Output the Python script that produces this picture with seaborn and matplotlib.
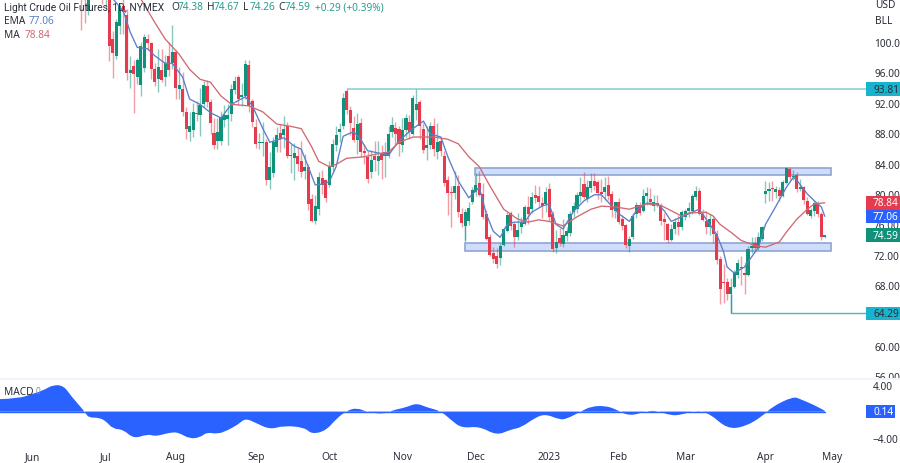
import numpy as np
import pandas as pd
import matplotlib
matplotlib.use('Agg')
import matplotlib.pyplot as plt
from matplotlib.patches import Rectangle, PathPatch
from matplotlib.path import Path
import seaborn as sns

# candles, first visible bar is number 14 counted from 1 June 2022
first_bar = 14
opens = [109.5,107,104.1,107.5,109.6,112,110,105.8,108.4,100.4,
         98.2,102.1,104.7,103.5,95.9,96.9,95.4,94.3,96.6,100.4,
         99.9,96.5,95.1,96.3,95.4,98.2,97.2,98.7,93.8,93.8,
         90.8,88.2,88.4,90.7,90.4,91.8,94.2,92.1,88,87,
         87,89.7,89.9,90.5,93.7,95.4,92.7,92.9,97,92.2,
         88.8,86.7,86.7,86.9,81.9,82.8,86.2,88,87.8,89,
         85,84.8,85,84.3,83,83.5,79.3,76.5,78,82.1,
         81.8,81.2,83.5,86.4,88.1,88.9,93.6,91.1,88.7,87.1,
         89.4,85.6,84.9,82.9,85,84.4,85.3,85,85,88.2,
         88.7,88.5,86.4,88.4,89.5,87.9,91,92.1,88.5,86,
         86.4,88.9,85.5,87,85,81.8,80.3,80.1,81,77.4,
         75.8,76.4,79,80.2,81.4,80,77.4,74.4,72.2,71.9,
         71.6,73.3,75.1,77.5,76.1,74.3,75.7,76,78.3,78,
         79.9,79.7,78.8,78.7,80.6,77.4,72.9,74.2,73.4,74.5,
         74.9,77.6,78,79.8,81.3,79.3,80.8,81.7,81.6,80.2,
         80.2,81.2,80,77.7,79,76.7,75.9,73.2,74.4,77.4,
         78.5,77.7,79.8,79.4,78.4,78.7,78.4,76.7,76,73.9,
         75.4,76.3,75.6,77,77.7,77.8,79.6,80.4,77.4,76.4,
         75.7,76.7,74.8,71.5,68.4,68.4,66.8,67.8,69.4,70.4,
         69.6,69.4,72.9,73.6,72.9,74.1,80,80.4,80.8,80.2,
         80.5,79.7,81.5,83.3,82.2,82.5,80.7,80.9,79.1,77.1,
         77.8,78.8,77.4,74.38]
highs = [110.5,107.5,108,110,112,112,110.4,109,111,101.5,
         103,105,106,104.3,98.2,97.6,97.9,100,101,101,
         100,97.2,99.1,99.1,98.3,100,102.3,99,96.7,96,
         91.5,90.8,92,92.2,94,94.9,95,92.5,90,90,
         90.9,91.7,91.9,94.5,95.5,95.6,94.6,97.6,97.6,92.5,
         89.9,88,89.5,87.3,85.5,87.5,88.8,89.2,90.3,89.5,
         86.6,86.7,86,87,85.3,84,80,79.9,82.9,83.2,
         82,84.3,87.2,89,89.3,93.3,93.81,91.6,90.2,90.7,
         90,86.6,85.7,85.8,87,87,86.5,86.8,89,90.1,
         89.5,89,90,90.5,90.4,93,93.81,92.4,89.3,88.9,
         89.5,90,89.4,87.5,85.6,82.4,81,83,82.5,78.2,
         78,78.9,80.9,82.7,83,81.4,77.9,74.8,73,72.9,
         73.6,75.7,77.6,77.8,76.3,77.5,77,78.5,79.7,80.3,
         81.2,81,79.6,80.9,81.5,77.8,75.2,75.5,76.7,75.7,
         77.7,78.9,80.2,82.2,82.9,81.9,82.8,82.7,81.9,82,
         82.2,82.4,80.4,79,79.5,77.2,76.1,74.5,77.5,78.9,
         78.9,80.6,80.9,80.8,79.9,79.9,78.8,77.5,76.2,76,
         76.8,77.2,77.9,78,79,80,81,80.8,78,77.7,
         77.4,77,75.3,71.8,70.8,69,69,70,71.5,71.8,
         71,73.1,74.3,74.4,75,75.8,81.7,81.6,81.7,81,
         80.9,81.8,83.6,83.5,83.1,82.9,82,81,79.6,78.2,
         79.2,79.1,77.6,74.67]
lows = [101.6,102.5,103.5,106,108,108.5,105,104.3,97.5,95.3,
        97.8,101,101,95,93.9,90.6,94.5,92.9,96,99,
        95.1,94.2,93.4,94.8,94.2,95.5,96.5,92.5,92.5,90.2,
        87.3,87,87.5,89.6,87.6,91.5,91.5,87.9,85.9,85.9,
        86.5,88.8,86.4,89.6,93.2,91.7,91.6,92.5,90.8,88.8,
        86.1,85.9,85,81.2,80.6,82.2,85.5,85.5,86,84.7,
        82.8,81.8,83,82.2,82,77.9,76.3,76.1,77.3,80,
        78.9,80.9,83,85.7,86.9,88.6,90.5,87.8,86.9,85.2,
        84.9,83.9,81.4,82.1,83,82.5,82,82.3,84.8,87.5,
        86.5,85,85.5,87.5,87.3,87.7,89.8,87.2,85.4,84.5,
        85.9,85,84.6,85,81,77.2,75.7,79.3,77,75.6,
        74,75.9,78.7,79.8,79.7,76.7,74,71.9,70.9,70.2,
        70.6,73.1,75,75.2,73,73.9,74.9,75.9,76,77.5,
        78.8,78.3,76.8,77.6,76.5,72.4,72.3,73.2,73,73.8,
        74.5,77,77.5,79,79.3,78.9,80.2,80.5,79.4,78.9,
        79.2,79.2,77,76.8,76,75.3,72.9,72.4,74.1,76.9,
        77.3,77.6,78.5,78.6,77.7,78.3,75.9,74,73.5,73.8,
        74.7,74.6,75.2,76.6,77,77.4,79.2,77.2,76.4,74.8,
        74.6,73.6,70.8,65.5,65.6,66,64.29,67.6,69,68,
        66.8,69.2,72.2,72.4,72.6,73.8,78.8,79.1,79.1,79.5,
        79.1,79.6,81.3,81.9,81.9,80.3,80.4,78.7,77.2,76.8,
        77.1,77,74,74.26]
closes = [106.2,105.8,107.6,109.6,111.8,109.8,105.8,108.4,99.5,98.6,
          102.6,104.8,103.9,95.9,96.3,95.8,97.6,99.5,100.7,99.9,
          96.4,94.7,96.7,95,97.3,96.3,98.7,93.9,94.4,90.8,
          88.5,89,90.8,90.5,91.7,94.3,92.1,89.3,86.5,88.2,
          90.1,90.4,90.4,93.8,94.9,92.5,93,97.1,91.6,89.5,
          86.6,86.9,86.9,81.9,83.6,86.8,87.8,87.2,88.5,85,
          85.1,85.4,84,82.9,83.5,78.7,76.5,78.4,82.2,81.2,
          79.5,83.7,86.6,87.8,88.5,92.6,91.1,89.3,87.1,89.2,
          85.5,85.4,82,84.5,84.5,85,84.5,85.5,87.9,89.1,
          87.9,86.6,88.4,90,88.2,92.6,91.8,88.9,85.8,86.5,
          88.9,85.9,86.9,85.6,81.4,80.1,80.1,81,77.6,76.2,
          77.6,78.1,80.5,81.2,79.9,77,74.1,72,71.4,70.8,
          73.2,75.4,77.2,75.8,74.3,75.2,76.3,78.3,77.4,79.6,
          79.5,78.9,78.4,80.3,77,72.8,73.7,73.6,74.6,75.1,
          77.4,78.4,79.9,80.2,79.6,80.9,81.7,81.1,80.1,80,
          80.9,79.7,77.9,78.9,76.3,75.8,73.3,74.1,77.1,78.5,
          77.5,79.7,80.1,79,78.9,78.6,76.4,76.3,73.9,75.4,
          76.3,75.6,77.6,77.7,78.2,79.7,80.4,77.4,76.6,75.7,
          76.7,74.8,71.3,67.5,68.3,66.8,67.7,69.7,70.9,70.2,
          69.3,72.8,73.2,72.9,74.4,75.7,80.4,80.7,80.6,80.7,
          79.7,81.6,83.4,82.2,82.4,80.6,80.8,79.2,77.4,77.9,
          78.8,77.4,74.3,74.59]

# indicator lines
ema_bars = [23,26,28,30,33,35,38,40,43,45,48,51,54,57,61,63,66,68,72,75,77,79,81,83,85,87,89,92,94,96,
            100,102,105,109,112,114,117,119,122,125,127,128,130,132,134,136,138,141,143,146,148,150,152,
            155,158,161,163,166,168,171,173,176,179,181,183,186,188,191,193,196,198,199,201,204,206,208,
            210,213,216,218,219,222,224,226,227]
ema_vals = [105.7,104.1,101.3,99.3,99.1,98.2,97.2,97.2,95.4,92.5,91.8,90.7,90,91.8,92.8,91.6,88.6,86.8,87.4,86.3,
            85.9,83.6,81.2,81.3,81.6,83.6,87.6,88.2,87.2,85.7,85.3,85.1,87,88.6,89.6,87.9,87.5,84.9,81.7,79.5,
            80.4,80.9,77.4,75.1,74.3,76,76.3,76.3,77.6,78.4,78.7,76,75.4,77.7,79.1,79.9,79.9,78.4,77.4,76.4,
            77.8,78.8,78.7,77.8,76.4,77,77.4,78,76.7,74.7,72.4,70.4,69.6,70.4,71.7,73,76,78.4,80.9,82.2,81.8,
            80,79.1,78.3,77.06]
ma_bars = [31,35,38,42,45,48,51,54,57,62,66,70,74,77,80,82,85,87,90,95,99,102,105,109,112,115,119,122,125,128,
           131,135,139,142,145,148,152,156,160,163,167,171,176,180,183,186,188,193,195,197,200,203,207,210,214,
           216,219,222,224,227]
ma_vals = [105.7,102.6,100.4,98.4,96.4,95.1,94.7,92.9,91.8,91.6,90.8,89.2,88.9,88.6,86.2,84.3,83.6,83.9,84.7,84.9,
           85.3,85.5,86.8,87.5,87.5,87.5,87.2,86.6,84.9,83.6,81.1,78,76.7,76.3,76.6,76.4,75.8,77,78,78.4,78.3,78,
           78.7,78.5,77.8,77.1,77.5,77.6,77.1,76,75,73.9,73.2,73,73.7,75,76.7,78,78.7,78.84]

# MACD pane
macd_bars = [-9.4,-4,0,3,6,9,11,15,16,19,21,23,26,29,33,35,37,40,42,45,48,50,53,56,59,61,64,68,72,78,80,84,87,90,
             93,96,101,103,107,110,113,117,120,123,128,133,137,140,144,147,151,153,157,160,164,167,171,176,179,
             183,186,190,194,199,204,209,212,218,220,224,227]
macd_vals = [1.9,2.0,2.7,3.2,4.1,3.9,2.4,0,-0.9,-0.9,-1.4,-2.6,-2.7,-4.1,-3.4,-3.7,-3.5,-3.1,-3.2,-4.1,-3.9,-3.1,
             -3.4,-2.8,-1.9,-1.0,-1.7,-2.7,-2.1,-2.4,-3.4,-2.9,-1.1,0.15,0.6,-0.1,-0.35,0.2,0.65,1.3,0.65,0.1,
             -1.3,-2.5,-2.2,-3.6,-2.7,-2.4,-0.9,-0.35,-1.2,-1.1,0,0.8,0.9,0.4,-0.7,0.1,0.15,-0.6,-0.45,0.2,-0.25,
             -2.6,-2.3,-0.75,0.8,2.3,1.9,1.0,0.14]

price_ticks = [56,60,68,72,76,80,84,88,92,96,100]
month_bars = [0,21,41,64,85,106,127,148,168,187,210,229]
month_labels = ['Jun','Jul','Aug','Sep','Oct','Nov','Dec','2023','Feb','Mar','Apr','May']

GREEN = '#0f9279'
RED = '#e63a4e'
BLUE = '#2962ff'
TEAL = '#18b3cc'
INK = '#2a2e39'
FONT = 'Noto Sans'
SIZE = 7.3


def px_text(fig, x, y, s, color=INK, size=SIZE, **kw):
    # place a label by its pixel position in the 900x464 picture
    fig.text(x / 900, 1 - y / 464, s, color=color, fontsize=size, va='center', zorder=12, **kw)


def price_tag(ax, price, text, face, ink):
    ax.add_patch(Rectangle((1.0, price - 0.88), 34 / 866, 1.76, transform=ax.get_yaxis_transform(),
                           facecolor=face, edgecolor='none', clip_on=False, zorder=8))
    ax.text(1.0 + 7 / 866, price, text, transform=ax.get_yaxis_transform(), color=ink,
            fontsize=SIZE, va='center', ha='left', zorder=9, clip_on=False)


def draw_candles(ax):
    bars = np.arange(first_bar, first_bar + len(closes))
    df = pd.DataFrame({'bar': bars, 'o': opens, 'h': highs, 'l': lows, 'c': closes})
    colors = np.where(df['c'] >= df['o'], GREEN, RED)
    ax.vlines(df['bar'], df['l'], df['h'], colors=colors, linewidth=1.0, alpha=0.5, zorder=3)
    bottom = df[['o', 'c']].min(axis=1)
    height = (df['c'] - df['o']).abs().clip(lower=0.18)
    ax.bar(df['bar'], height, bottom=bottom, width=0.88, color=colors, linewidth=0, zorder=4)


def smooth_area(xs, ys):
    # rounded outline through the readings, closed along the zero line
    pts = list(zip(xs, ys))
    verts = [pts[0]]
    codes = [Path.MOVETO]
    for i in range(1, len(pts) - 1):
        mid = ((pts[i][0] + pts[i + 1][0]) / 2, (pts[i][1] + pts[i + 1][1]) / 2)
        verts += [pts[i], mid]
        codes += [Path.CURVE3, Path.CURVE3]
    verts += [pts[-1], (xs[-1], 0), (xs[0], 0), pts[0]]
    codes += [Path.LINETO, Path.LINETO, Path.LINETO, Path.CLOSEPOLY]
    return Path(verts, codes)


def main():
    sns.set_theme(style='white')
    plt.rcParams['font.family'] = FONT

    fig = plt.figure(figsize=(9, 4.64), dpi=100, facecolor='white')
    ax = fig.add_axes([0, 1 - 379 / 464, 866 / 900, 379 / 464])
    ax.set_xlim(-9.31, 238.8)
    ax.set_ylim(55.79, 105.66)

    # support and resistance zones
    ax.add_patch(Rectangle((126.9, 82.5), 101.9, 0.92, facecolor='#cfdcfb', edgecolor='#8ea6d2', linewidth=1.2, zorder=2))
    ax.add_patch(Rectangle((123.9, 72.46), 104.9, 1.09, facecolor='#cfdcfb', edgecolor='#8ea6d2', linewidth=1.2, zorder=2))
    ax.vlines(126.9, 80.4, 82.5, color='#8fc4c4', linewidth=1, zorder=2)
    ax.vlines(123.9, 73.55, 76, color='#8fc4c4', linewidth=1, zorder=2)

    # high and low levels
    ax.hlines(93.81, 90, 238.8, color='#86cdd3', linewidth=1.1, zorder=2)
    ax.hlines(64.29, 200, 238.8, color='#4fb3bf', linewidth=1, zorder=2)
    ax.vlines(200, 64.29, 66.8, color='#4fb3bf', linewidth=1, zorder=2)

    draw_candles(ax)

    ema = pd.DataFrame({'bar': ema_bars, 'value': ema_vals})
    ma = pd.DataFrame({'bar': ma_bars, 'value': ma_vals})
    sns.lineplot(data=ema, x='bar', y='value', ax=ax, color='#5b7fc9', linewidth=0.95, zorder=5,
                 solid_joinstyle='round')
    sns.lineplot(data=ma, x='bar', y='value', ax=ax, color='#cf6a72', linewidth=0.95, zorder=5,
                 solid_joinstyle='round')

    ax.set_xlabel('')
    ax.set_ylabel('')
    ax.set_xticks([])
    ax.yaxis.tick_right()
    ax.set_yticks(price_ticks)
    ax.set_yticklabels(['%.2f' % p for p in price_ticks])
    ax.tick_params(axis='y', length=0, pad=5.8, labelsize=SIZE, labelcolor=INK)
    sns.despine(ax=ax, left=True, bottom=True, right=True, top=True)

    price_tag(ax, 93.81, '93.81', TEAL, INK)
    price_tag(ax, 78.84, '78.84', RED, 'white')
    price_tag(ax, 77.06, '77.06', BLUE, 'white')
    price_tag(ax, 74.59, '74.59', GREEN, 'white')
    price_tag(ax, 64.29, '64.29', TEAL, INK)

    # strip between the panes hides the lower half of 56.00
    fig.add_artist(Rectangle((0, 1 - 386 / 464), 1, 7 / 464, transform=fig.transFigure,
                             facecolor='white', edgecolor='none', zorder=5))
    fig.add_artist(Rectangle((0, 1 - 381 / 464), 1, 2 / 464, transform=fig.transFigure,
                             facecolor='#f0f3fa', edgecolor='none', zorder=6))

    # MACD pane
    ax2 = fig.add_axes([0, 1 - 444 / 464, 866 / 900, 63 / 464], zorder=7)
    ax2.patch.set_alpha(0)
    ax2.set_xlim(-9.31, 238.8)
    ax2.set_ylim(-4.74, 4.8)
    ax2.add_patch(PathPatch(smooth_area(macd_bars, macd_vals), facecolor=BLUE, edgecolor='none'))
    ax2.axhline(0, xmax=(227 + 9.31) / 248.11, color=BLUE, linewidth=1)
    ax2.yaxis.tick_right()
    ax2.set_yticks([-4, 4])
    ax2.set_yticklabels(['\u22124.00', '4.00'])
    ax2.tick_params(axis='y', length=0, pad=5, labelsize=SIZE, labelcolor=INK)
    ax2.set_xticks(month_bars)
    ax2.set_xticklabels(month_labels)
    ax2.tick_params(axis='x', length=0, pad=6, labelsize=SIZE, labelcolor=INK)
    ax2.get_xticklabels()[7].set_fontweight('bold')
    sns.despine(ax=ax2, left=True, bottom=True, right=True, top=True)
    ax2.add_patch(Rectangle((1.0, -0.95), 29 / 866, 1.98, transform=ax2.get_yaxis_transform(),
                            facecolor=BLUE, edgecolor='none', clip_on=False, zorder=8))
    ax2.text(1.0 + 7 / 866, 0.05, '0.14', transform=ax2.get_yaxis_transform(), color='white',
             fontsize=SIZE, va='center', ha='left', zorder=9, clip_on=False)

    # legend rows and currency labels
    px_text(fig, 4, 8, 'Light Crude Oil Futures, 1D, NYMEX', family='Roboto', size=7.4)
    teal_text = '#2a9d8f'
    for x, head, val in [(171, 'O', '74.38'), (207, 'H', '74.67'), (243, 'L', '74.26'), (278, 'C', '74.59')]:
        px_text(fig, x, 8, head)
        px_text(fig, x + 7, 8, val, color=teal_text)
    px_text(fig, 315, 8, '+0.29 (+0.39%)', color=teal_text)
    px_text(fig, 4, 21, 'EMA')
    px_text(fig, 29, 21, '77.06', color='#5b7fc9')
    px_text(fig, 4, 35, 'MA')
    px_text(fig, 25, 35, '78.84', color='#cf6a72')
    px_text(fig, 4, 393, 'MACD')
    px_text(fig, 36, 392, '0', color='#7c8aa5', size=6)
    px_text(fig, 875, 5, 'USD')
    px_text(fig, 875, 21, 'BLL')

    fig.savefig('out.png', dpi=100)


if __name__ == '__main__':
    main()
